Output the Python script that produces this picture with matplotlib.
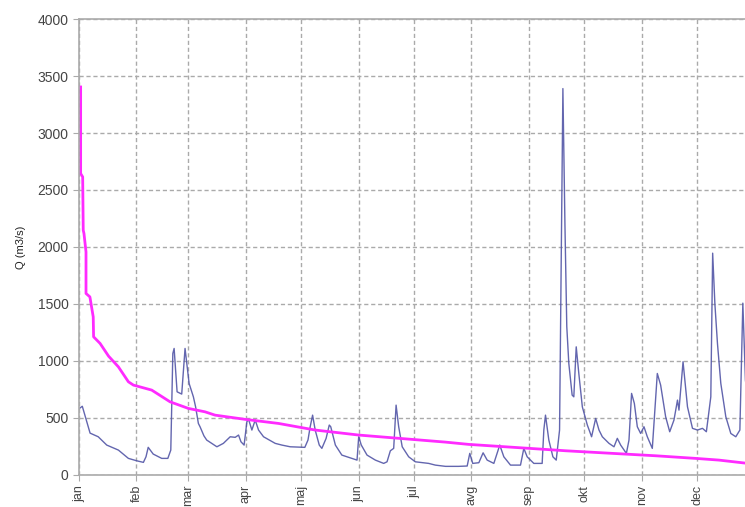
import matplotlib
matplotlib.use("Agg")
import matplotlib.pyplot as plt

plt.rcParams['font.family'] = ['Liberation Sans', 'DejaVu Sans']

# daily discharge (day of year, Q)
q_days = [0.5, 1.8, 4.2, 6, 10.4, 15, 21.3, 26.7, 31.2, 34.8, 36.2, 37.4, 40.1, 44.7, 48,
          49.6, 50.7, 51.4, 53, 55.5, 57.3, 59.5, 61.8, 63, 64.5, 65.4, 67.5, 69, 74.5, 78,
          81.7, 84.4, 86.2, 87.5, 89.2, 90.7, 91.6, 93.4, 95.2, 97, 99.7, 106, 109.6, 114.1,
          122, 123.7, 124.9, 126.2, 127.6, 129.8, 131.2, 133.5, 135.2, 136, 138.5, 142, 147.5,
          150.2, 151.1, 152.5, 155.6, 160.1, 164.6, 166.4, 168.2, 170, 171.3, 172.7, 174.6,
          178.1, 181.7, 188.9, 192.5, 198, 205, 209.7, 211.1, 212.7, 216, 218.3, 220.5, 224.1,
          227.3, 229.5, 233.1, 238.5, 240.3, 242.1, 245.7, 250.2, 251.1, 252, 253.8, 256,
          257.8, 259.6, 261.4, 262.5, 263.5, 264.6, 266.4, 267.3, 268.6, 270, 271.9, 274.6,
          276.9, 279.1, 280.9, 282.7, 286.3, 289, 290.8, 292.6, 295.7, 297.1, 298.5, 300,
          301.6, 303.4, 305.2, 307, 309.7, 311.2, 312.4, 314.2, 316.9, 319.1, 321.4, 323.3,
          324.1, 326.3, 328.7, 331.4, 334.1, 336.8, 338.9, 341.3, 342.3, 343.5, 344.9, 346.7,
          349.4, 352.1, 354.8, 357, 358.6, 360, 360.5]
q_vals = [584, 600, 464, 364, 332, 259, 215, 142, 121, 107, 156, 239, 180, 142, 142,
          215, 1064, 1108, 727, 707, 1108, 800, 683, 595, 449, 420, 340, 303, 244, 274,
          332, 327, 347, 288, 259, 464, 485, 391, 479, 391, 332, 274, 259, 244,
          239, 303, 420, 522, 391, 259, 230, 318, 435, 420, 259, 171, 142,
          127, 332, 259, 171, 127, 98, 112, 209, 230, 610, 420, 244,
          156, 112, 98, 83, 72, 72, 75, 186, 98, 104, 191, 127, 98,
          259, 156, 83, 83, 230, 156, 98, 98, 391, 522, 303, 156,
          127, 391, 3391, 2200, 1300, 976, 698, 683, 1122, 888, 595, 435,
          332, 493, 391, 332, 274, 244, 318, 259, 186, 303, 713, 625,
          420, 361, 420, 332, 230, 595, 888, 786, 508, 376, 479, 654,
          566, 991, 595, 406, 391, 406, 376, 683, 1945, 1500, 1150, 801,
          508, 361, 332, 391, 1506, 830, 760]

# duration curve (sorted discharge)
dur_days = [0.9, 0.9, 2.0, 2.3, 2.7, 3.8, 3.8, 5.9, 7.7, 7.9, 11.4, 16, 21.3, 26.7, 29.4,
            39.3, 49.2, 59.1, 68.1, 73.5, 89.7, 107.8, 127.6, 151.1, 198, 210.5, 257.4,
            262.8, 311.5, 333.1, 345.7, 360.2, 365]
dur_vals = [3405, 2645, 2615, 2147, 2118, 1956, 1591, 1561, 1385, 1210, 1152, 1040, 946,
            815, 786, 742, 639, 581, 551, 522, 485, 449, 391, 347, 285, 265, 215, 209, 165,
            142, 127, 100, 90]

months = ['jan', 'feb', 'mar', 'apr', 'maj', 'jun', 'jul', 'avg', 'sep', 'okt', 'nov', 'dec']
month_len = [31, 28, 31, 30, 31, 30, 31, 31, 30, 31, 30, 31]
month_start = [sum(month_len[:i]) for i in range(12)]

fig = plt.figure(figsize=(7.45, 5.07), dpi=100)
ax = fig.add_axes([0.106, 0.064, 0.907, 0.898])

ax.plot(q_days, q_vals, color='#5255a6', lw=1.0, alpha=0.9)
ax.plot(dur_days, dur_vals, color='#ff2bff', lw=2.0)

ax.set_xlim(0, 365)
ax.set_ylim(0, 4000)
ax.set_yticks(range(0, 4001, 500))
ax.set_xticks(month_start)
ax.set_xticklabels(months, rotation=90, fontsize=9, color='#444444')
ax.tick_params(axis='y', labelsize=10, labelcolor='#444444', color='#aaaaaa', length=4)
ax.tick_params(axis='x', color='#aaaaaa', length=4)
ax.set_ylabel('Q (m3/s)', fontsize=8, color='#222222', labelpad=8)

ax.grid(True, color='#aaaaaa', linestyle=(0, (3, 2)), lw=1)
for s in ['left', 'bottom', 'top']:
    ax.spines[s].set_color('#aaaaaa')
    ax.spines[s].set_linewidth(1.2)
ax.spines['right'].set_visible(False)

plt.savefig('out.png', dpi=100)
